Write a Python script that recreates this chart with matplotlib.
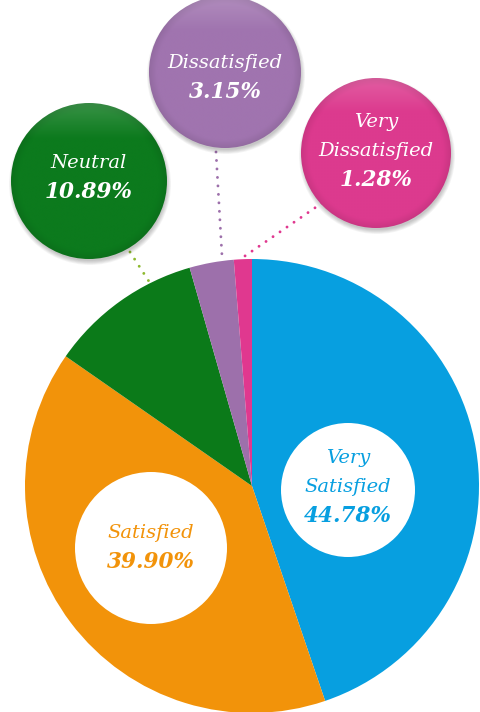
import numpy as np
import matplotlib
matplotlib.use("Agg")
import matplotlib.pyplot as plt
from matplotlib.patches import Circle
from matplotlib.colors import to_rgb

W, H = 481, 712

categories = ["Very Satisfied", "Satisfied", "Neutral", "Dissatisfied", "Very Dissatisfied"]
values = [44.78, 39.90, 10.89, 3.15, 1.28]
colors = ["#079FE0", "#F2930A", "#0B7A19", "#9D70AB", "#E0388F"]
label_lines = [["Very", "Satisfied"], ["Satisfied"], ["Neutral"], ["Dissatisfied"], ["Very", "Dissatisfied"]]

fig = plt.figure(figsize=(W / 100, H / 100), dpi=100)
ax = fig.add_axes([0, 0, 1, 1])

def Y(y):
    return H - y

FONT = ["DejaVu Serif"]
LS = 29  # line spacing px

def draw_text(i, x, ymid, color):
    lines = label_lines[i] + [f"{values[i]:.2f}%"]
    n = len(lines)
    y0 = ymid - (n - 1) * LS / 2
    for k, t in enumerate(lines):
        bold = k == n - 1
        ax.text(x, Y(y0 + k * LS), t, ha="center", va="center",
                fontsize=15.5 if bold else 14, style="italic",
                weight="bold" if bold else "normal", color=color, family=FONT, zorder=4)

# pie
cx, cy, r = 252, 486, 227
ax.pie(values, colors=colors, startangle=90, counterclock=False,
       center=(cx, Y(cy)), radius=r, frame=True,
       wedgeprops=dict(linewidth=0))

# inner white circles with labels
inner = {0: (348, 490, 67, 487), 1: (151, 548, 76, 548)}
for i, (x, y, rr, ym) in inner.items():
    ax.add_patch(Circle((x, Y(y)), rr, facecolor="white", edgecolor="none", zorder=3))
    draw_text(i, x, ym, colors[i])

# bubbles
bubbles = {2: (89, 181, 78, 178), 3: (225, 72, 76, 78), 4: (376, 153, 75, 151)}
bubble_cols = {2: "#0C7A1D", 3: "#A074AF", 4: "#DC3A8E"}
leaders = {2: [(130, 252), (150, 283)], 3: [(216, 152), (222, 256)], 4: [(322, 203), (242, 258)]}
lead_cols = {2: "#8DB92E", 3: "#9D70AB", 4: "#E0388F"}

for i, (x, y, rr, ym) in bubbles.items():
    (x0, y0), (x1, y1) = leaders[i]
    ax.plot([x0, x1], [Y(y0), Y(y1)], linestyle=(0, (0.01, 2.9)), linewidth=2.1,
            color=lead_cols[i], dash_capstyle="round", solid_capstyle="round", zorder=1)
    # shadow
    for k in range(6):
        ax.add_patch(Circle((x + 1, Y(y + 3)), rr + 3 - k * 0.8, facecolor="#000000",
                            alpha=0.04, edgecolor="none", zorder=2))
    base = np.array(to_rgb(bubble_cols[i]))
    n = 200
    gx, gy = np.meshgrid(np.linspace(-1, 1, n), np.linspace(-1, 1, n))
    rad = np.sqrt(gx ** 2 + gy ** 2)
    edge = np.clip((rad - 0.9) / 0.1, 0, 1)[..., None] * 0.08
    topl = np.clip((-gy - 0.55) / 0.45, 0, 1)[..., None] * 0.18
    img = base[None, None, :] * (1 - edge) + (1 - base[None, None, :]) * topl
    img = np.clip(img, 0, 1)
    im = ax.imshow(img, extent=(x - rr, x + rr, Y(y + rr), Y(y - rr)), origin="upper",
                   zorder=3, interpolation="bilinear")
    clip = Circle((x, Y(y)), rr, transform=ax.transData)
    im.set_clip_path(clip)
    draw_text(i, x, ym, "white")

ax.set_xlim(0, W)
ax.set_ylim(0, H)
ax.set_aspect("equal")
ax.axis("off")
fig.savefig("out.png", dpi=100)
